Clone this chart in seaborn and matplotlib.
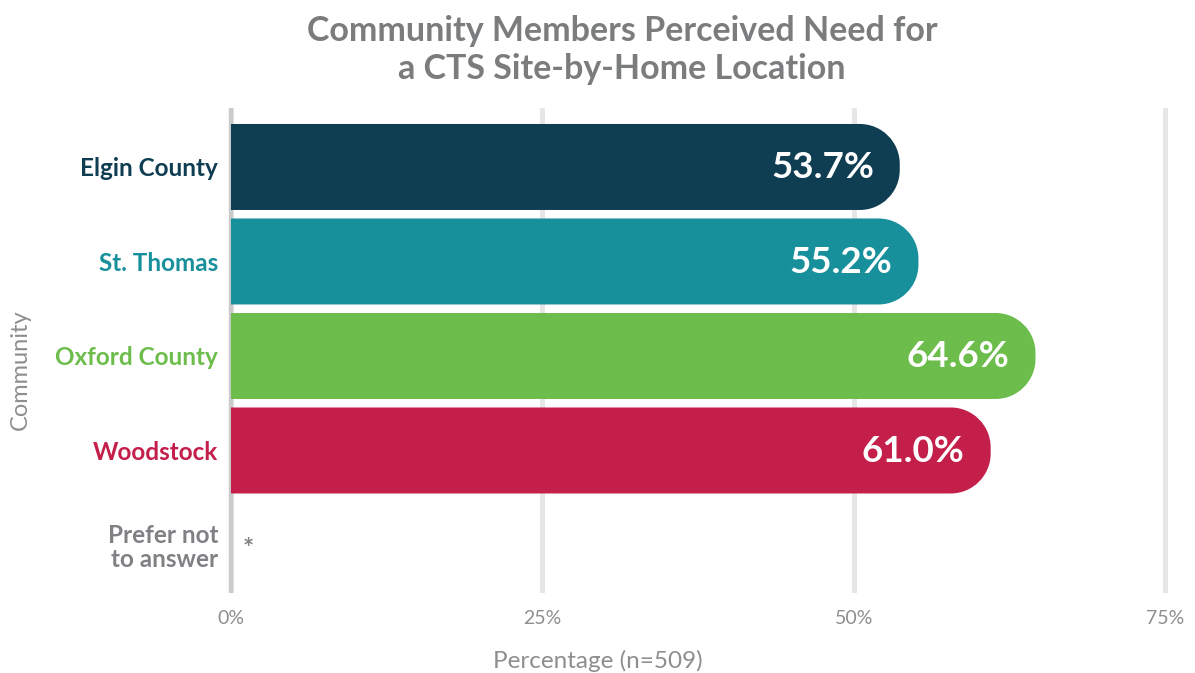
import numpy as np
import pandas as pd
import matplotlib
matplotlib.use("Agg")
import matplotlib.pyplot as plt
from matplotlib.patches import PathPatch
from matplotlib.path import Path
import seaborn as sns

# Survey data
communities = ["Elgin County", "St. Thomas", "Oxford County", "Woodstock", "Prefer not\nto answer"]
percentages = [53.7, 55.2, 64.6, 61.0, np.nan]
bar_colors = ["#0f3d52", "#17909c", "#6cbd4b", "#c41e4a", "#808184"]
x_ticks = [0, 25, 50, 75]
x_tick_labels = ["0%", "25%", "50%", "75%"]

sns.set_theme(style="white")
plt.rcParams["font.family"] = ["Lato", "DejaVu Sans"]

W, H, DPI = 1195, 673, 100
fig = plt.figure(figsize=(W / DPI, H / DPI), dpi=DPI)

# axes placed in pixel terms
ax_left, ax_right, ax_top, ax_bottom = 225, 1171, 108, 593
ax = fig.add_axes([ax_left / W, 1 - ax_bottom / H,
                   (ax_right - ax_left) / W, (ax_bottom - ax_top) / H])

df = pd.DataFrame({"community": communities, "pct": percentages})
sns.barplot(data=df, x="pct", y="community", hue="community",
            palette=bar_colors, legend=False, width=0.91, orient="h",
            saturation=1, ax=ax)

x0, x1 = -0.48, 75.48
y0, y1 = 4.508, -0.624
ax.set_xlim(x0, x1)
ax.set_ylim(y0, y1)

px_x = (ax_right - ax_left) / (x1 - x0)
px_y = (ax_bottom - ax_top) / (y0 - y1)
radius_px = 40
rx = radius_px / px_x
ry = radius_px / px_y
K = 0.5523  # cubic Bezier constant for a quarter circle


def right_rounded_path(x, y, w, h):
    """Bar outline with square left end and rounded right corners."""
    r_y = min(ry, h / 2)
    xe = x + w
    verts = [
        (x, y),
        (xe - rx, y),
        (xe - rx + K * rx, y), (xe, y + r_y - K * r_y), (xe, y + r_y),
        (xe, y + h - r_y),
        (xe, y + h - r_y + K * r_y), (xe - rx + K * rx, y + h), (xe - rx, y + h),
        (x, y + h),
        (x, y),
    ]
    codes = [Path.MOVETO, Path.LINETO,
             Path.CURVE4, Path.CURVE4, Path.CURVE4,
             Path.LINETO,
             Path.CURVE4, Path.CURVE4, Path.CURVE4,
             Path.LINETO, Path.CLOSEPOLY]
    return Path(verts, codes)


for patch in list(ax.patches):
    w = patch.get_width()
    if not np.isfinite(w) or w <= 0:
        continue
    x, y, h = patch.get_x(), patch.get_y(), patch.get_height()
    color = patch.get_facecolor()
    ax.add_patch(PathPatch(right_rounded_path(x, y, w, h), facecolor=color,
                           edgecolor="none", zorder=3))
    patch.set_visible(False)
    ax.text(x + w - 26 / px_x, y + h / 2 + 0.01, f"{w:.1f}%", ha="right", va="center",
            color="white", fontsize=26.5, fontweight="bold", zorder=4)

# suppressed value marker
ax.text(1.35, 4.04, "*", ha="center", va="center", color="#808184",
        fontsize=19, fontweight="bold")

# grid
ax.set_axisbelow(True)
ax.grid(axis="x", color="#e6e6e6", linewidth=3.6)
ax.grid(axis="y", visible=False)
ax.axvline(0, color="#cbcbcb", linewidth=3.2, zorder=1)
for s in ax.spines.values():
    s.set_visible(False)

ax.set_xticks(x_ticks)
ax.set_xticklabels(x_tick_labels)
ax.tick_params(axis="x", length=0, pad=12, labelsize=14, labelcolor="#8d8e90")
ax.tick_params(axis="y", length=0, pad=5, labelsize=17.5)
for t, c in zip(ax.get_yticklabels(), bar_colors):
    t.set_color(c)
    t.set_fontweight("bold")
    t.set_multialignment("right")
    t.set_linespacing(1.05)
ax.set_xlabel("")
ax.set_ylabel("")

fig.text(0.5, 1 - 661 / H, "Percentage (n=509)", ha="center", va="center",
         fontsize=17.5, color="#8d8e90")
fig.text(20 / W, 1 - 370 / H, "Community", ha="center", va="center",
         rotation=90, fontsize=17, color="#8d8e90")
fig.text(622 / W, 1 - 50 / H, "Community Members Perceived Need for\na CTS Site-by-Home Location",
         ha="center", va="center", fontsize=24.5, fontweight="bold",
         color="#7b7c7e", linespacing=1.2)

fig.savefig("out.png", dpi=DPI)
